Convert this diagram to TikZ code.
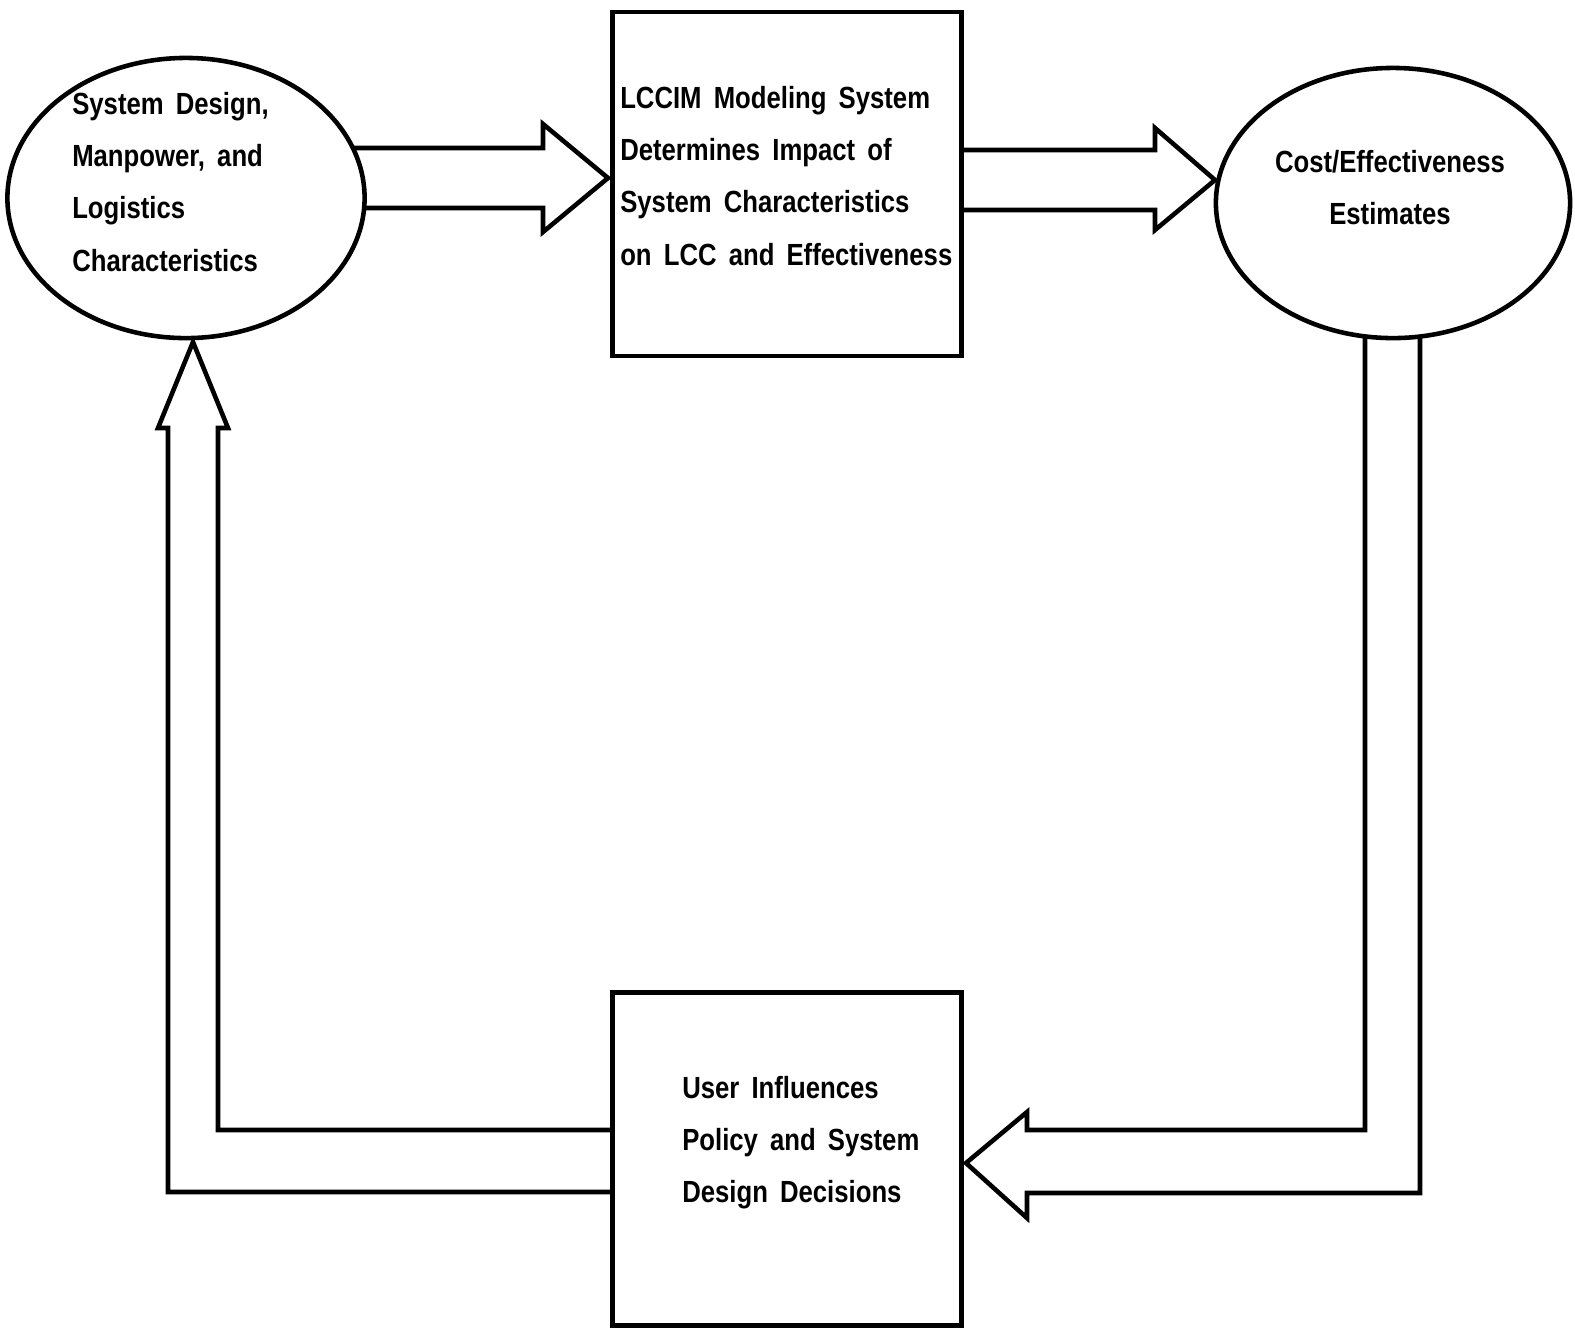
\documentclass[tikz,border=0pt]{standalone}
\usepackage{fontspec}
\setmainfont{Liberation Sans}[FakeStretch=0.84, WordSpace=1.7]
\usetikzlibrary{shapes.geometric,backgrounds}

\begin{document}
\begin{tikzpicture}[x=0.01cm, y=-0.01cm, line width=1.3pt,
    oval/.style = {draw, ellipse, fill=white, inner sep=0pt, line width=1.3pt},
    box/.style = {draw, rectangle, fill=white, inner sep=0pt, line width=1.3pt},
    txt/.style = {align=left, inner sep=0pt, font=\fontsize{8.7}{14.8}\selectfont\bfseries},
    hollow/.style = {draw, fill=white, line join=miter, line width=1.3pt}]
    \useasboundingbox (0,0) rectangle (1575,1332);
    % shapes
    \node[oval, minimum width=3.57cm, minimum height=2.8cm] (design) at (186,198) {};
    \node[box, minimum width=3.49cm, minimum height=3.44cm] (lccim) at (787,184) {};
    \node[oval, minimum width=3.54cm, minimum height=2.7cm] (estim) at (1393,203) {};
    \node[box, minimum width=3.49cm, minimum height=3.33cm] (user) at (787,1159) {};
    % texts
    \node[txt, anchor=west] (designtxt) at (70,182) {System Design,\\Manpower, and\\Logistics\\Characteristics};
    \node[txt, anchor=west] (lccimtxt) at (618,176) {LCCIM Modeling System\\Determines Impact of\\System Characteristics\\on LCC and Effectiveness};
    \node[txt, align=center] (estimtxt) at (1390,188) {Cost/Effectiveness\\Estimates};
    \node[txt, anchor=west] (usertxt) at (680,1143) {User Influences\\Policy and System\\Design Decisions};
    % hollow arrows
    \begin{scope}[on background layer]
        \draw[hollow] (design.center |- 0,148) -- (543,148) -- (543,124) -- (608,178)
            -- (543,232) -- (543,208) -- (design.center |- 0,208) -- cycle;
        \draw[hollow] (lccim.center |- 0,150) -- (1155,150) -- (1155,128) -- (1215,180)
            -- (1155,230) -- (1155,210) -- (lccim.center |- 0,210) -- cycle;
        \draw[hollow] (1365,0 |- estim.center) -- (1365,1130) -- (1027,1130) -- (1027,1112)
            -- (966,1163) -- (1027,1218) -- (1027,1193) -- (1420,1193) -- (1420,0 |- estim.center) -- cycle;
        \draw[hollow] (user.center |- 0,1130) -- (218,1130) -- (218,428) -- (228,428) -- (193,342)
            -- (158,428) -- (168,428) -- (168,1192) -- (user.center |- 0,1192) -- cycle;
    \end{scope}
\end{tikzpicture}
\end{document}
